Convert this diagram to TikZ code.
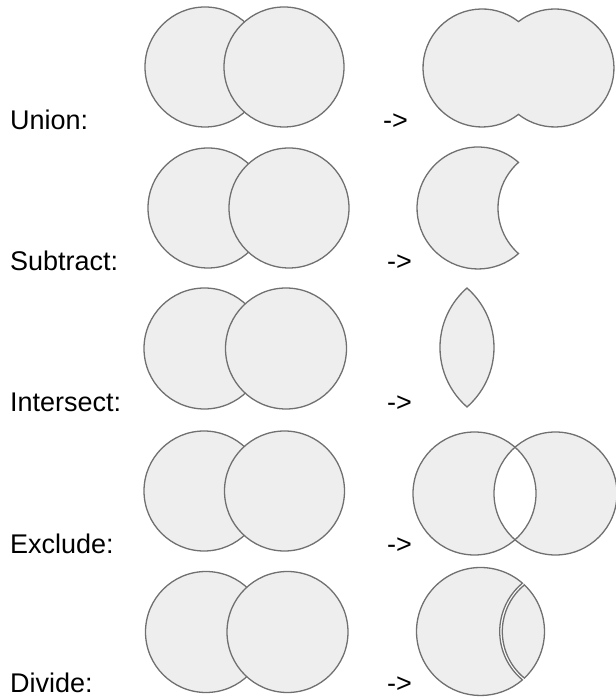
\documentclass[tikz,border=0pt]{standalone}
\usepackage{fontspec}
\setmainfont{Liberation Sans}
\definecolor{shapeFill}{HTML}{EEEEEE}
\definecolor{shapeLine}{HTML}{707070}
\begin{document}
\begin{tikzpicture}[x=1pt,y=1pt,
  shp/.style={fill=shapeFill, draw=shapeLine, line width=1.3pt},
  outline/.style={draw=shapeLine, line width=1.3pt},
  lbl/.style={anchor=base west, inner sep=0pt, font=\fontsize{27}{31}\selectfont}]
\useasboundingbox (0,0) rectangle (615,700);

% ---------- Union ----------
\node[lbl] (lunion) at (10,570) {Union:};
\draw[shp] (205,633) circle[radius=60];
\draw[shp] (284,633) circle[radius=60];
\node[lbl] (aunion) at (383,570) {->};
\draw[shp] (482,632) ++(51.8:59) arc[start angle=51.8, end angle=308.2, radius=59]
  arc[start angle=231.8, end angle=488.2, radius=59] -- cycle;

% ---------- Subtract ----------
\node[lbl] (lsub) at (10,429) {Subtract:};
\draw[shp] (208,492) circle[radius=60];
\draw[shp] (289,492) circle[radius=60];
\node[lbl] (asub) at (387,429) {->};
\draw[shp] (478,492) ++(48.4:61) arc[start angle=48.4, end angle=311.6, radius=61]
  arc[start angle=228.4, end angle=131.6, radius=61] -- cycle;

% ---------- Intersect ----------
\node[lbl] (lint) at (10,288) {Intersect:};
\draw[shp] (204.5,351.5) circle[radius=60.5];
\draw[shp] (286,351.5) circle[radius=60.5];
\node[lbl] (aint) at (387,288) {->};
\draw[shp] (415,352.5) ++(48.85:79) arc[start angle=48.85, end angle=-48.85, radius=79]
  arc[start angle=228.85, end angle=131.15, radius=79] -- cycle;

% ---------- Exclude ----------
\node[lbl] (lexc) at (10,146) {Exclude:};
\draw[shp] (204,209) circle[radius=60];
\draw[shp] (284.5,209) circle[radius=60];
\node[lbl] (aexc) at (387,146) {->};
\fill[shapeFill, even odd rule] (474.5,206.5) circle[radius=61.5] (555.5,206.5) circle[radius=61.5];
\draw[outline] (474.5,206.5) circle[radius=61.5];
\draw[outline] (555.5,206.5) circle[radius=61.5];

% ---------- Divide ----------
\node[lbl] (ldiv) at (10,8) {Divide:};
\draw[shp] (206,68) circle[radius=60.5];
\draw[shp] (287.5,68) circle[radius=60.5];
\node[lbl] (adiv) at (387,8) {->};
\draw[shp] (480.5,68.5) ++(49.07:64) arc[start angle=49.07, end angle=310.93, radius=64]
  arc[start angle=230.35, end angle=129.65, radius=62.8] -- cycle;
\draw[shp] (480.5,68.5) ++(46.72:64) arc[start angle=46.72, end angle=-46.72, radius=64]
  arc[start angle=230.71, end angle=129.29, radius=60.2] -- cycle;
\end{tikzpicture}
\end{document}
